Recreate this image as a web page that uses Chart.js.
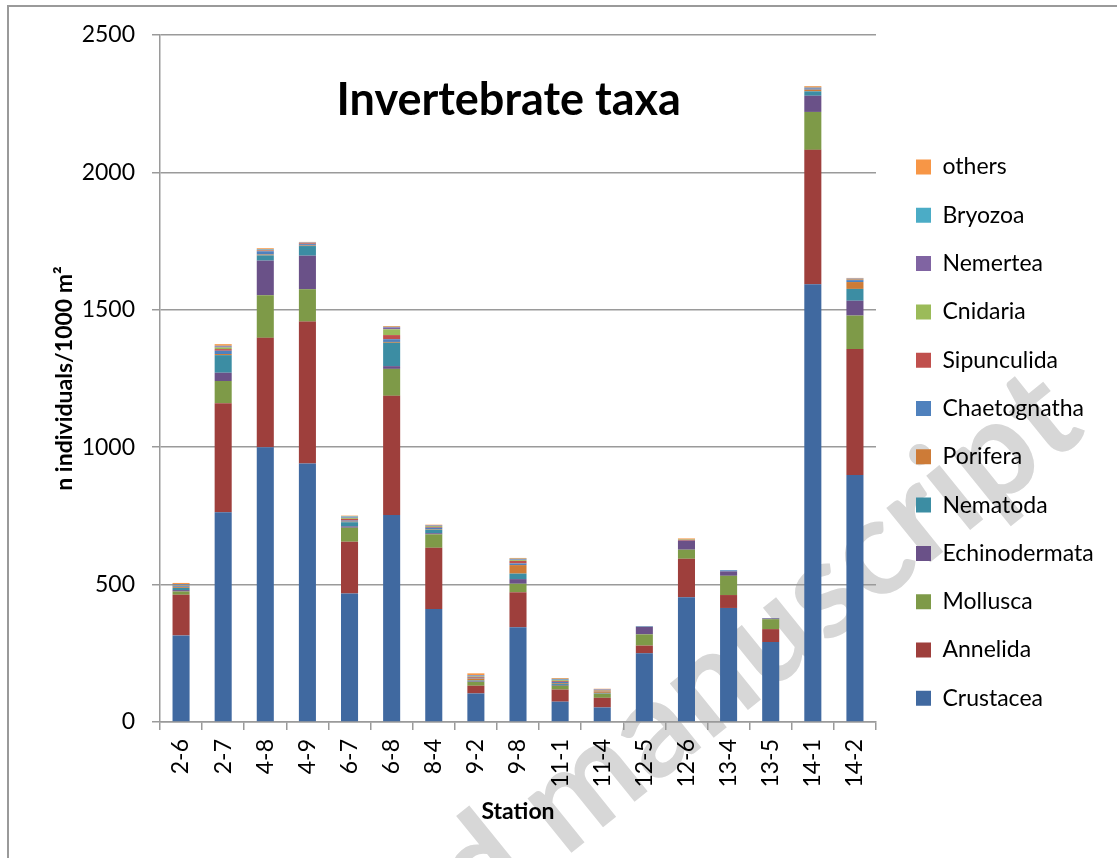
<!DOCTYPE html>
<html>
<head>
<meta charset="utf-8">
<title>Invertebrate taxa</title>
<script src="https://cdn.jsdelivr.net/npm/chart.js@4"></script>
<style>
  html, body { margin: 0; padding: 0; background: #fff; overflow: hidden; }
  #frame { position: absolute; left: 7px; top: 5px; width: 1300px; height: 1000px;
           border-left: 2px solid #9a9a9a; border-top: 2px solid #9a9a9a; }
  #wrap { position: absolute; left: 0; top: 0; width: 1117px; height: 858px; }
</style>
</head>
<body>
<div id="frame"></div>
<div id="wrap"><canvas id="chart"></canvas></div>
<script>
// Stations (x categories)
const stations = ['2-6', '2-7', '4-8', '4-9', '6-7', '6-8', '8-4', '9-2', '9-8',
                  '11-1', '11-4', '12-5', '12-6', '13-4', '13-5', '14-1', '14-2'];

// Abundance per taxon, n individuals / 1000 m², one value per station
const crustacea     = [315, 763, 1000, 941, 468, 753, 411, 104, 345, 74, 53, 250, 454, 415, 291, 1593, 899];
const annelida      = [148, 397, 398, 516, 188, 434, 223, 28, 127, 44, 35, 28, 140, 47, 47, 489, 458];
const mollusca      = [12, 81, 155, 118, 51, 98, 49, 14, 31, 14, 15, 41, 33, 70, 36, 138, 122];
const echinodermata = [5, 30, 126, 122, 5, 10, 4, 2, 17, 3, 1, 28, 33, 16, 3, 59, 54];
const nematoda      = [8, 64, 19, 35, 15, 85, 13, 3, 20, 4, 2, 0, 0, 0, 1, 16, 43];
const porifera      = [3, 4, 3, 2, 2, 3, 2, 7, 31, 3, 5, 0, 0, 0, 0, 6, 25];
const chaetognatha  = [3, 12, 12, 5, 4, 10, 5, 3, 6, 4, 1, 0, 0, 4, 0, 5, 7];
const sipunculida   = [2, 6, 3, 3, 6, 15, 3, 3, 9, 3, 2, 0, 3, 0, 0, 2, 2];
const cnidaria      = [2, 6, 2, 1, 3, 21, 3, 2, 3, 3, 2, 0, 2, 0, 0, 1, 2];
const nemertea      = [2, 4, 1, 1, 2, 7, 2, 3, 2, 2, 2, 0, 0, 0, 0, 1, 1];
const bryozoa       = [2, 2, 2, 1, 4, 2, 1, 2, 3, 3, 1, 2, 0, 1, 0, 1, 1];
const others        = [4, 6, 3, 2, 3, 3, 2, 6, 3, 3, 2, 0, 3, 0, 0, 3, 2];

// Y axis ticks
const yTicks = [0, 500, 1000, 1500, 2000, 2500];

const taxa = [
  ['Crustacea', crustacea, '#4069A0'],
  ['Annelida', annelida, '#9E3F3C'],
  ['Mollusca', mollusca, '#7E9A48'],
  ['Echinodermata', echinodermata, '#6A5188'],
  ['Nematoda', nematoda, '#3C8DA3'],
  ['Porifera', porifera, '#CD7B37'],
  ['Chaetognatha', chaetognatha, '#4F81BD'],
  ['Sipunculida', sipunculida, '#C0504D'],
  ['Cnidaria', cnidaria, '#9BBB59'],
  ['Nemertea', nemertea, '#8064A2'],
  ['Bryozoa', bryozoa, '#4BACC6'],
  ['others', others, '#F79646']
];

const FONT = 'Lato, "Open Sans", sans-serif';
Chart.defaults.font.family = FONT;
Chart.defaults.font.size = 23;
Chart.defaults.color = '#000';

// Faint diagonal stamp behind the plot
const stamp = {
  id: 'stamp',
  beforeDraw(chart) {
    const ctx = chart.ctx;
    ctx.save();
    ctx.translate(565, 858);
    ctx.rotate(-39 * Math.PI / 180);
    ctx.font = 'bold 136px ' + FONT;
    ctx.fillStyle = '#d7d7d7';
    ctx.textBaseline = 'alphabetic';
    ctx.textAlign = 'right';
    ctx.fillText('Accepted ', 0, 0);
    ctx.textAlign = 'left';
    ctx.fillText('manuscript', 0, 0);
    ctx.restore();
  }
};

// Chart heading drawn inside the plot area
const heading = {
  id: 'heading',
  afterDraw(chart) {
    const {ctx, chartArea} = chart;
    ctx.save();
    ctx.font = 'bold 45px ' + FONT;
    ctx.fillStyle = '#000';
    ctx.textAlign = 'center';
    ctx.textBaseline = 'alphabetic';
    const x = chartArea.left + (chartArea.right - chartArea.left) * 0.487;
    ctx.fillText('Invertebrate taxa', x, chartArea.top + 80);
    ctx.restore();
  }
};

new Chart(document.getElementById('chart'), {
  type: 'bar',
  data: {
    labels: stations,
    datasets: taxa.map(([label, values, color]) => ({
      label,
      data: values,
      backgroundColor: color,
      borderWidth: 0,
      barPercentage: 0.405,
      categoryPercentage: 1.0
    }))
  },
  options: {
    responsive: true,
    maintainAspectRatio: false,
    animation: false,
    layout: { padding: { left: 10, top: 35, right: 20, bottom: 27.7 } },
    plugins: {
      legend: {
        position: 'right',
        reverse: true,
        maxWidth: 206.3,
        labels: {
          boxWidth: 15,
          boxHeight: 15,
          padding: 25.3,
          font: { size: 23 },
          color: '#000'
        }
      },
      tooltip: { enabled: false }
    },
    scales: {
      x: {
        stacked: true,
        afterFit(scale) { scale.height = 108.3; },
        grid: {
          display: true,
          drawOnChartArea: false,
          drawTicks: true,
          tickLength: 8,
          offset: true,
          color: '#9a9a9a',
          lineWidth: 1.5
        },
        border: { display: true, color: '#9a9a9a', width: 1.5 },
        ticks: {
          autoSkip: false,
          minRotation: 90,
          maxRotation: 90,
          padding: 9,
          font: { size: 23 }
        },
        title: {
          display: true,
          text: 'Station',
          font: { size: 23, weight: 'bold' },
          padding: { top: 4, bottom: 4.5 }
        }
      },
      y: {
        stacked: true,
        min: 0,
        max: 2500,
        afterBuildTicks(scale) { scale.ticks = yTicks.map(v => ({ value: v })); },
        afterFit(scale) { scale.width = 150; },
        grid: {
          color: '#9a9a9a',
          lineWidth: 1.5,
          tickLength: 8
        },
        border: { display: true, color: '#9a9a9a', width: 1.5 },
        ticks: {
          padding: 17,
          font: { size: 23 },
          callback: (value) => String(value)
        },
        title: {
          display: true,
          text: 'n individuals/1000 m²',
          font: { size: 23, weight: 'bold' },
          padding: { top: 41.2, bottom: 2 }
        }
      },
      spacer: {
        type: 'linear',
        position: 'right',
        display: true,
        grid: { display: false },
        border: { display: false },
        ticks: { display: false },
        afterFit(scale) { scale.width = 14.7; }
      }
    }
  },
  plugins: [stamp, heading]
});
</script>
</body>
</html>
